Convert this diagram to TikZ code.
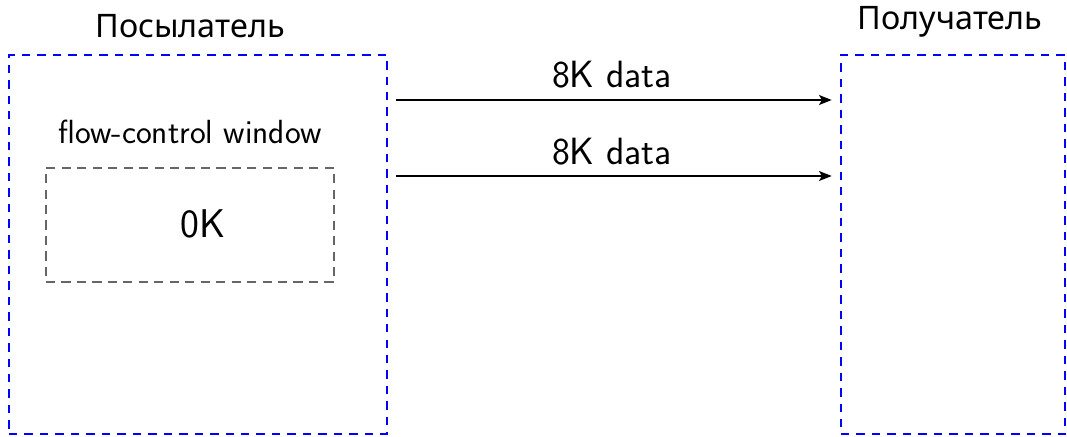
\documentclass[tikz,border=0pt]{standalone}
\usepackage{fontspec}
\newfontfamily\cyrfont{Noto Sans}
\usetikzlibrary{arrows.meta}
\tikzset{
  party/.style={draw=blue, line width=1.8pt, dash pattern=on 6pt off 5pt,
    minimum width=378*0.025cm, minimum height=379*0.025cm, inner sep=0pt},
  winbox/.style={draw=black!60, line width=1pt, dash pattern=on 6.5pt off 4.5pt,
    minimum width=288*0.025cm, minimum height=114*0.025cm, inner sep=0pt},
  title/.style={font=\cyrfont\fontsize{23}{27}\selectfont},
  lbl/.style={font=\sffamily\fontsize{27}{31}\selectfont},
  big/.style={font=\sffamily\fontsize{28.5}{33}\selectfont},
  small/.style={font=\sffamily\fontsize{23.8}{28}\selectfont},
  msg/.style={-{Stealth[length=9pt,width=7pt,inset=2pt]}, line width=1.3pt,
    shorten <=8*0.025cm, shorten >=8*0.025cm}
}
\begin{document}
\begin{tikzpicture}[x=0.025cm, y=-0.025cm]
  \useasboundingbox (0,0) rectangle (1067,436);
  % sender and receiver frames
  \node[party] (sender) at (198,244.5) {};
  \node[party, minimum width=224*0.025cm] (receiver) at (953,244.5) {};
  \node[title] (stitle) at (190,26) {Посылатель};
  \node[title] (rtitle) at (950,22) {Получатель};
  % flow-control window of the sender
  \node[small] (wlabel) at (190,132) {flow-control window};
  \node[winbox] (win) at (190,225) {};
  \node[big] (wval) at (203,224) {0K};
  % data frames in flight
  \node[lbl] (d1) at (612,75) {8K data};
  \node[lbl] (d2) at (612,152) {8K data};
  \draw[msg] (sender.east |- 0,100) -- (receiver.west |- 0,100);
  \draw[msg] (sender.east |- 0,176) -- (receiver.west |- 0,176);
\end{tikzpicture}
\end{document}
